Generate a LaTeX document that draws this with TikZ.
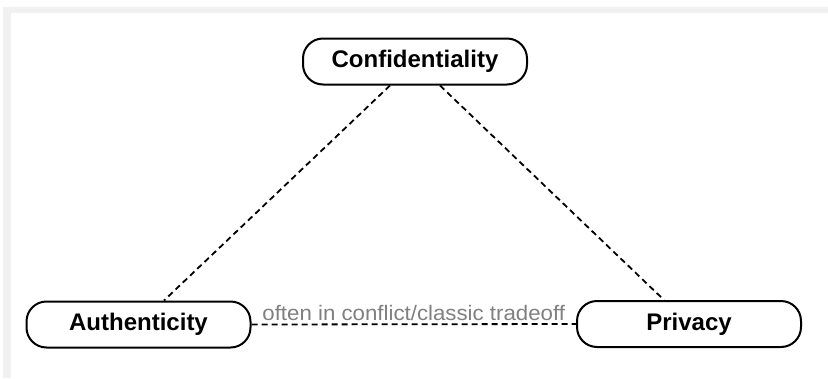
\documentclass[tikz,border=0pt]{standalone}
\usepackage{fontspec}
\setmainfont{Liberation Sans}
\newfontfamily\notefont[FakeStretch=1.06]{Liberation Sans}
\definecolor{framegray}{RGB}{241,241,241}
\definecolor{notegray}{RGB}{128,128,128}
\begin{document}
\begin{tikzpicture}[x=1pt,y=-1pt,
  pillar/.style={draw=black, line width=2pt, fill=white, rounded corners=20pt,
    minimum width=224pt, minimum height=46pt, inner sep=0pt,
    font=\fontsize{24}{28}\selectfont\bfseries},
  link/.style={draw=black, line width=1.8pt, dash pattern=on 6pt off 4pt},
  note/.style={text=notegray, font=\notefont\fontsize{21}{25}\selectfont, inner sep=0pt}]
  % page and light frame
  \useasboundingbox (0,0) rectangle (828,378);
  \fill[white] (0,0) rectangle (828,378);
  \fill[framegray] (3,7) rectangle (828,378);
  \fill[white] (11,13) rectangle (828,378);

  % the three properties
  \node[pillar] (conf) at (415,61.5) {Confidentiality};
  \node[pillar] (auth) at (138.5,324.5) {Authenticity};
  \node[pillar] (priv) at (689,324) {Privacy};

  % connections
  \draw[link] ([xshift=-25pt]conf.south) -- ([xshift=25.5pt]auth.north);
  \draw[link] ([xshift=25pt]conf.south) -- ([xshift=-25pt]priv.north);
  \draw[link] (auth.east) -- node[note, anchor=base, yshift=4pt] (tradeoff) {often in conflict/classic tradeoff} (priv.west);
\end{tikzpicture}
\end{document}
